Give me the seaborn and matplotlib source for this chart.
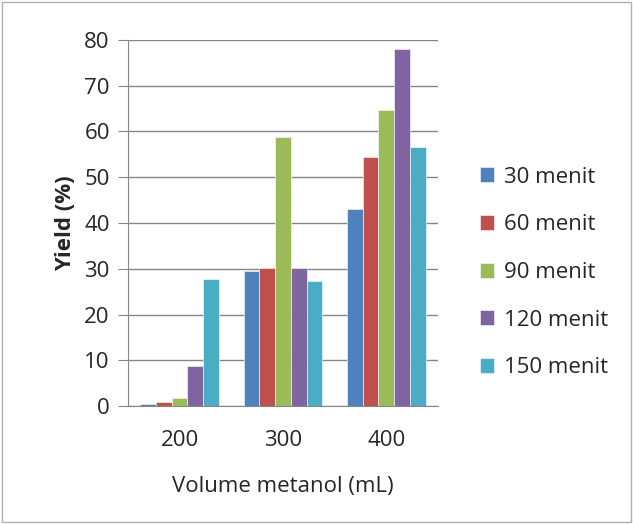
import matplotlib
matplotlib.use("Agg")
import matplotlib.pyplot as plt
import pandas as pd
import seaborn as sns
from matplotlib.patches import Rectangle

volumes = ["200", "300", "400"]
durations = ["30 menit", "60 menit", "90 menit", "120 menit", "150 menit"]
yield_30 = [0.5, 29.4, 43.0]
yield_60 = [1.0, 30.2, 54.4]
yield_90 = [1.7, 58.8, 64.6]
yield_120 = [8.8, 30.2, 77.9]
yield_150 = [27.8, 27.4, 56.7]

colors = ["#4F81BD", "#C0504D", "#9BBB59", "#8064A2", "#4BACC6"]

rows = []
for dur, vals in zip(durations, [yield_30, yield_60, yield_90, yield_120, yield_150]):
    for vol, v in zip(volumes, vals):
        rows.append({"Volume": vol, "Waktu": dur, "Yield": v})
df = pd.DataFrame(rows)

sns.set_style("white")
plt.rcParams["font.family"] = ["Open Sans", "DejaVu Sans"]
FS = 16

fig = plt.figure(figsize=(6.33, 5.24), dpi=100)
ax = fig.add_axes([0.202, 0.225, 0.49, 0.699])
sns.barplot(data=df, x="Volume", y="Yield", hue="Waktu", order=volumes,
            hue_order=durations, palette=colors, saturation=1, width=0.76, ax=ax,
            edgecolor="white", linewidth=0.4)

ax.set_ylim(0, 80)
ax.set_yticks(range(0, 81, 10))
ax.set_xlim(-0.5, 2.5)
ax.yaxis.grid(True, color="#868686", linewidth=1)
ax.set_axisbelow(True)
for s in ["top", "right"]:
    ax.spines[s].set_visible(False)
for s in ["left", "bottom"]:
    ax.spines[s].set_color("#868686")
ax.set_xticks([-0.5, 0.5, 1.5, 2.5], minor=True)
ax.tick_params(axis="x", which="major", length=0, labelsize=FS, pad=17)
ax.tick_params(axis="x", which="minor", length=7, color="#868686", direction="out")
ax.tick_params(axis="y", length=7, color="#868686", direction="out", labelsize=FS,
               left=True, pad=6)
ax.set_xlabel("Volume metanol (mL)", fontsize=FS, labelpad=18)
ax.set_ylabel("Yield (%)", fontsize=FS, fontweight="bold", labelpad=6)

ax.legend(loc="center left", bbox_to_anchor=(1.07, 0.365), frameon=False,
          fontsize=FS, labelspacing=1.2, handlelength=0.65, handleheight=0.65,
          handletextpad=0.45)

fig.patches.append(Rectangle((0.003, 0.003), 0.994, 0.994, transform=fig.transFigure,
                             fill=False, edgecolor="#b0b0b0", linewidth=1))
fig.savefig("out.png", dpi=100)
